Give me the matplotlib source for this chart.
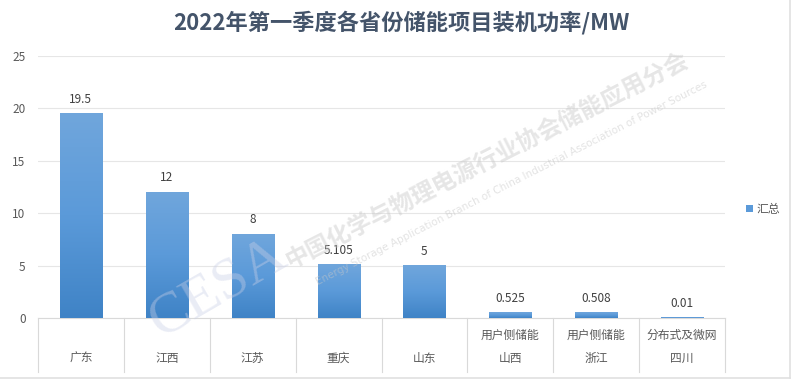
import matplotlib
matplotlib.use("Agg")
import matplotlib.pyplot as plt
import numpy as np
from matplotlib.colors import LinearSegmentedColormap
from matplotlib.lines import Line2D
from matplotlib.patches import Patch

plt.rcParams['font.family'] = ['Noto Sans CJK SC', 'DejaVu Sans']

title = "2022年第一季度各省份储能项目装机功率/MW"
provinces = ["广东", "江西", "江苏", "重庆", "山东", "山西", "浙江", "四川"]
subtypes = ["", "", "", "", "", "用户侧储能", "用户侧储能", "分布式及微网"]
values = [19.5, 12, 8, 5.105, 5, 0.525, 0.508, 0.01]
value_labels = ["19.5", "12", "8", "5.105", "5", "0.525", "0.508", "0.01"]
yticks = [0, 5, 10, 15, 20, 25]
legend_label = "汇总"

fig = plt.figure(figsize=(8, 3.82), dpi=100)
ax = fig.add_axes([38/800, 1-318/382, (725-38)/800, (318-56)/382])

x = np.arange(len(provinces))
w = 0.49
cmap = LinearSegmentedColormap.from_list("g", ["#3f83c6", "#5b9ad9", "#70a6dc"])
grad = np.linspace(0, 1, 256).reshape(-1, 1)
bars = ax.bar(x, values, width=w, color="none", edgecolor="none", zorder=2)
for b in bars:
    x0 = b.get_x()
    h = b.get_height()
    if h <= 0:
        continue
    ax.imshow(grad, cmap=cmap, extent=(x0, x0 + b.get_width(), 0, h),
              origin="lower", aspect="auto", zorder=3,
              interpolation="bilinear")

for xi, v, lab in zip(x, values, value_labels):
    ax.text(xi, v + 0.75, lab, ha="center", va="bottom", fontsize=8.5,
            color="#404040", zorder=5)

ax.set_xlim(-0.5, len(provinces) - 0.5)
ax.set_ylim(0, 25)
ax.set_yticks(yticks)
ax.set_yticklabels([str(t) for t in yticks], fontsize=8.5, color="#595959")
ax.tick_params(axis="y", length=0, pad=9)
ax.set_xticks([])
ax.grid(axis="y", color="#e6e6e6", lw=0.8, zorder=0)
ax.set_axisbelow(True)
for s in ["top", "right", "left"]:
    ax.spines[s].set_visible(False)
ax.spines["bottom"].set_color("#d9d9d9")
ax.spines["bottom"].set_linewidth(0.8)

trans = ax.get_xaxis_transform()
for b in np.arange(-0.5, len(provinces), 1.0):
    ax.add_line(Line2D([b, b], [0, -0.205], transform=trans, color="#d9d9d9",
                       lw=0.8, clip_on=False))
for xi, p, s in zip(x, provinces, subtypes):
    ax.text(xi, -0.153, p, transform=trans, ha="center", va="center",
            fontsize=8.5, color="#595959")
    if s:
        ax.text(xi, -0.065, s, transform=trans, ha="center", va="center",
                fontsize=8.5, color="#595959")

fig.text(0.502, 0.942, title, ha="center", va="center", fontsize=16,
         fontweight="bold", color="#44546a")

leg = fig.legend(handles=[Patch(facecolor="#5b9ad9", edgecolor="none")],
                 labels=[legend_label], loc="center left",
                 bbox_to_anchor=(735/800, 1-209/382), frameon=False,
                 fontsize=8.5, handlelength=0.6, handleheight=0.6,
                 handletextpad=0.3, labelcolor="#595959")

# watermark
fig.text(0.272, 0.245, "CESA", rotation=30, fontsize=42, color="#c9cfe6",
         alpha=0.4, ha="center", va="center", family="Liberation Serif")
fig.text(0.61, 0.58, "中国化学与物理电源行业协会储能应用分会", rotation=27,
         fontsize=17, color="#c8c8c8", alpha=0.45, ha="center", va="center",
         fontweight="bold")
fig.text(0.64, 0.52, "Energy Storage Application Branch of China Industrial Association of Power Sources",
         rotation=27, fontsize=7.5, color="#c8c8c8", alpha=0.5, ha="center",
         va="center", family="DejaVu Sans")

# outer frame lines
fig.add_artist(Line2D([0, 790/800], [1-378/382, 1-378/382], color="#e0e0e0",
                      lw=1.2, transform=fig.transFigure))
fig.add_artist(Line2D([790/800, 790/800], [1-378/382, 1.0], color="#e0e0e0",
                      lw=1.2, transform=fig.transFigure))

fig.savefig("out.png", dpi=100)
